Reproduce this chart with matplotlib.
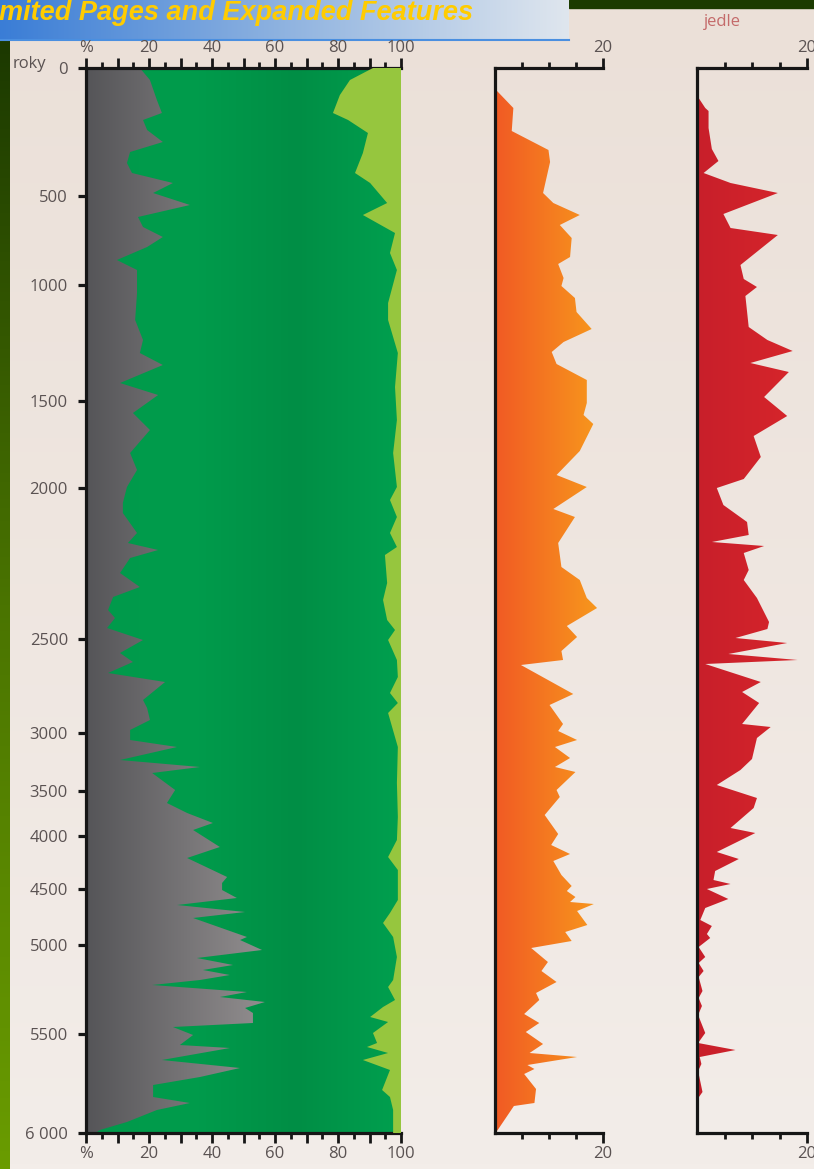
import numpy as np
import matplotlib
matplotlib.use("Agg")
import matplotlib.pyplot as plt
from matplotlib.colors import LinearSegmentedColormap
from matplotlib.patches import Rectangle
from matplotlib.ticker import FixedLocator

plt.rcParams['font.family'] = ['Open Sans', 'DejaVu Sans']

# ---------------- data ----------------
# age-depth model (age axis labels placed at core depth)
age_labels = ["0", "500", "1000", "1500", "2000", "2500", "3000", "3500",
              "4000", "4500", "5000", "5500", "6 000"]
age_depth = [0, 128, 217, 333, 420, 571, 665, 723, 768, 821, 877, 966, 1065]
core_bottom = 1065

# grey: non-arboreal pollen %, by depth
grey_depth = [0, 12, 32, 45, 52, 62, 74, 84, 95, 105, 115, 125, 137, 149, 159, 169, 179, 192, 202, 225,
              252, 272, 285, 297, 315, 327, 345, 362, 385, 402, 419, 435, 445, 465, 475, 482, 490, 505, 519, 529,
              542, 550, 560, 572, 585, 594, 605, 614, 632, 640, 652, 662, 672, 679, 692, 699, 705, 722, 735, 745,
              755, 762, 779, 790, 809, 815, 822, 830, 837, 844, 850, 869, 872, 882, 890, 897, 902, 907, 912, 917,
              924, 929, 934, 940, 945, 955, 959, 967, 977, 980, 992, 1000, 1009, 1017, 1029, 1035, 1042, 1054, 1062, 1065]
grey_pct = [17.1, 20.3, 22.5, 24.1, 18.1, 19.4, 24.4, 14.0, 13.0, 14.6, 27.6, 21.3, 33.0, 16.5, 18.1, 24.4, 19.4, 9.8, 16.2, 16.2,
            15.6, 18.1, 17.1, 24.4, 10.8, 22.9, 14.9, 20.3, 14.0, 16.2, 13.0, 11.7, 11.7, 16.2, 13.3, 22.9, 14.0, 10.8, 17.1, 8.6,
            7.0, 9.2, 6.7, 18.1, 10.8, 14.9, 7.0, 25.1, 18.1, 19.4, 20.3, 14.0, 14.0, 28.9, 10.8, 36.2, 21.0, 28.3, 25.7, 32.1,
            40.3, 34.0, 42.5, 32.1, 44.8, 43.2, 43.2, 47.9, 28.9, 50.5, 34.0, 51.1, 48.9, 55.9, 35.2, 46.7, 37.1, 45.7, 36.2, 21.0,
            51.1, 42.5, 56.8, 50.5, 53.0, 53.0, 27.6, 34.0, 29.8, 45.7, 24.1, 48.9, 36.2, 21.3, 21.3, 33.0, 22.5, 13.0, 4.4, 3.0]

# cumulative % up to the light-green group (remainder to 100 is light green)
cum_depth = [0, 12, 27, 45, 52, 65, 85, 105, 115, 135, 147, 165, 185, 202, 235, 252, 285, 319, 352, 385,
             419, 432, 449, 465, 479, 487, 515, 532, 552, 562, 572, 592, 609, 625, 635, 645, 679, 715, 749, 772,
             789, 802, 832, 845, 855, 869, 889, 912, 919, 932, 939, 949, 954, 965, 975, 979, 985, 992, 1002, 1022,
             1029, 1042, 1065]
cum_pct = [91.1, 83.8, 80.6, 78.4, 83.2, 89.5, 87.9, 85.4, 90.2, 95.6, 87.9, 98.1, 96.5, 98.7, 95.9, 95.9, 99.0, 98.1, 98.7, 97.5,
           98.7, 96.5, 98.7, 96.5, 98.7, 94.9, 95.6, 94.3, 95.6, 98.1, 95.9, 98.7, 99.0, 96.5, 99.0, 95.9, 99.0, 98.7, 99.0, 98.7,
           95.9, 99.0, 99.0, 96.5, 94.3, 97.5, 98.7, 97.5, 95.9, 98.1, 94.3, 90.2, 95.9, 91.1, 92.4, 89.2, 95.9, 87.9, 96.5, 94.0,
           96.5, 97.5, 97.5]

# orange curve
orange_depth = [22, 40, 63, 82, 94, 125, 135, 147, 157, 170, 189, 196, 210, 218, 230, 244, 261, 274, 284, 296,
                312, 335, 347, 356, 383, 407, 419, 441, 449, 475, 499, 512, 530, 540, 558, 569, 583, 592, 597, 626,
                637, 656, 663, 672, 679, 690, 699, 704, 722, 729, 747, 766, 777, 786, 793, 807, 818, 823, 829, 834,
                836, 843, 857, 864, 873, 880, 894, 903, 914, 925, 932, 946, 955, 964, 976, 985, 989, 997, 1001, 1006,
                1021, 1035, 1038, 1062, 1065]
orange_val = [0.2, 3.4, 3.1, 9.9, 10.2, 8.9, 10.8, 15.7, 12.0, 14.2, 13.9, 11.7, 12.7, 12.3, 14.8, 15.1, 17.9, 12.7, 10.5, 11.4,
              17.0, 17.0, 16.4, 18.2, 15.7, 11.4, 17.0, 10.8, 14.8, 11.7, 12.3, 15.7, 17.0, 18.9, 13.3, 15.2, 12.3, 12.6, 4.8, 14.5,
              10.1, 12.6, 11.7, 15.2, 11.1, 13.9, 11.1, 14.9, 11.4, 12.0, 9.2, 11.7, 10.4, 13.9, 10.8, 12.3, 14.2, 13.3, 14.9, 13.9,
              18.3, 15.2, 17.1, 13.0, 14.2, 6.7, 9.8, 8.6, 11.4, 7.6, 8.2, 5.4, 8.2, 5.7, 8.9, 6.4, 15.2, 6.0, 7.3, 5.4,
              7.6, 7.3, 3.5, 0.5, 0.0]

# jedle (fir)
fir_depth = [30, 40, 43, 60, 81, 93, 105, 115, 125, 146, 160, 167, 197, 211, 219, 228, 259, 272, 283, 295,
             304, 329, 348, 368, 389, 411, 420, 437, 454, 467, 474, 478, 485, 502, 512, 530, 554, 561, 570, 575,
             586, 592, 596, 614, 624, 635, 656, 659, 670, 691, 702, 717, 730, 740, 760, 765, 784, 791, 803, 812,
             816, 821, 831, 840, 852, 858, 866, 870, 879, 889, 895, 903, 909, 923, 930, 938, 947, 965, 975, 982,
             989, 996, 1003, 1024, 1031, 1065]
fir_val = [0.3, 1.5, 2.1, 2.1, 2.7, 3.9, 1.2, 6.1, 14.7, 4.8, 6.1, 14.7, 7.9, 8.5, 10.9, 8.8, 9.4, 12.8, 17.4, 9.7,
           16.7, 12.2, 16.4, 10.3, 11.6, 8.5, 3.6, 4.8, 9.1, 9.4, 2.7, 12.2, 8.5, 9.4, 8.5, 10.9, 13.1, 12.8, 7.0, 16.4,
           5.7, 18.3, 1.5, 11.6, 8.2, 11.3, 8.2, 13.4, 10.9, 10.0, 7.9, 3.6, 10.9, 10.3, 6.1, 10.6, 3.6, 7.6, 3.3, 3.0,
           6.1, 1.8, 5.7, 1.5, 0.6, 2.7, 1.8, 2.4, 0.3, 1.5, 0.3, 1.2, 0.3, 1.0, 0.3, 0.9, 0.2, 1.5, 0.2, 7.0,
           0.5, 0.8, 0.2, 1.0, 0.1, 0.0]

pct_ticks_major = [0, 10, 20, 30, 40, 50, 60, 70, 80, 90, 100]
pct_labels = ["%", "", "20", "", "40", "", "60", "", "80", "", "100"]
pct_ticks_minor = [5, 15, 25, 35, 45, 55, 65, 75, 85, 95]
small_major = [20]
small_minor = [5, 10, 15]

# ---------------- figure ----------------
W, H = 814, 1169
fig = plt.figure(figsize=(W / 100, H / 100), dpi=100)

bg = fig.add_axes([0, 0, 1, 1])
bg.set_axis_off()
bg.set_xlim(0, W)
bg.set_ylim(H, 0)
beige = LinearSegmentedColormap.from_list("beige", ["#ebe0d8", "#f3ede9"])
bg.imshow(np.linspace(0, 1, 256).reshape(-1, 1), extent=[0, W, H, 0], aspect='auto', cmap=beige, zorder=0)
stripc = LinearSegmentedColormap.from_list("strip", ["#1c3900", "#4a7400", "#6a9c00"])
bg.imshow(np.linspace(0, 1, 256).reshape(-1, 1), extent=[0, 10, H, 41], aspect='auto', cmap=stripc, zorder=1)
bg.add_patch(Rectangle((569, 0), W - 569, 8, color="#1b3b00", zorder=1))
banc = LinearSegmentedColormap.from_list("ban", ["#3a7dd6", "#8fb3e0", "#dfe6ee"])
bg.imshow(np.linspace(0, 1, 256).reshape(1, -1), extent=[0, 569, 40, 0], aspect='auto', cmap=banc, zorder=1)
bg.plot([0, 569], [40, 40], color="#4a8fe0", lw=1.5, zorder=2)
bg.text(-1, 20, "mited Pages and Expanded Features", fontsize=19.5, fontweight='bold', fontstyle='italic',
        family=['Liberation Sans', 'DejaVu Sans'], color="#ffcc00", va='baseline', ha='left', zorder=3)
bg.text(13, 64, "roky", fontsize=12, color="#5a5252", va='center', ha='left')
bg.text(722, 22, "jedle", fontsize=12, color="#c46a6a", va='center', ha='center')
bg.set_xlim(0, W)
bg.set_ylim(H, 0)

spine_c = "#161616"
lab_c = "#5a5252"


def style_axes(ax, xmax, major, labels, minor):
    ax.set_facecolor('none')
    ax.set_xlim(0, xmax)
    ax.set_ylim(core_bottom, 0)
    for s in ['left', 'top', 'bottom']:
        ax.spines[s].set_linewidth(2.3)
        ax.spines[s].set_color(spine_c)
    ax.spines['right'].set_visible(False)
    ax.xaxis.set_major_locator(FixedLocator(major))
    ax.set_xticklabels(labels)
    ax.xaxis.set_minor_locator(FixedLocator(minor))
    ax.tick_params(axis='x', which='both', top=True, bottom=True, labeltop=True, labelbottom=True,
                   direction='out', color=spine_c, labelcolor=lab_c, labelsize=12, pad=2)
    ax.tick_params(axis='x', which='major', length=7, width=2.0)
    ax.tick_params(axis='x', which='minor', length=4.5, width=2.0)


def gradient_fill(ax, depth, x0, x1, cmap, xmax):
    poly = ax.fill_betweenx(depth, x0, x1, facecolor='none', edgecolor='none')
    im = ax.imshow(np.linspace(0, 1, 256).reshape(1, -1), extent=[0, xmax, core_bottom, 0],
                   aspect='auto', cmap=cmap, interpolation='bilinear', zorder=2)
    im.set_clip_path(poly.get_paths()[0], ax.transData)
    return im


def fax(px0, px1):
    return fig.add_axes([px0 / W, 1 - 1133 / H, (px1 - px0) / W, 1065 / H])


# main stacked panel
ax1 = fax(86, 401)
dg = LinearSegmentedColormap.from_list("dg", ["#009a4b", "#009c4c", "#008e45", "#00a04f"])
ax1.imshow(np.linspace(0, 1, 256).reshape(1, -1), extent=[0, 100, core_bottom, 0], aspect='auto',
           cmap=dg, zorder=1)
gr = LinearSegmentedColormap.from_list("gr", [(0, "#555558"), (0.6, "#959192"), (1, "#a7a3a3")])
gradient_fill(ax1, grey_depth, 0, grey_pct, gr, 100)
ax1.fill_betweenx(cum_depth, cum_pct, 100, facecolor="#96c63e", edgecolor='none', zorder=3)
style_axes(ax1, 100, pct_ticks_major, pct_labels, pct_ticks_minor)
ax1.set_yticks(age_depth)
ax1.set_yticklabels(age_labels)
ax1.tick_params(axis='y', direction='out', length=6, width=2.3, color=spine_c, labelcolor=lab_c,
                labelsize=12, pad=7)

# orange panel
ax2 = fax(495, 603)
orc = LinearSegmentedColormap.from_list("or", [(0, "#f15a24"), (0.9, "#f7941d"), (1, "#f89a1c")])
gradient_fill(ax2, orange_depth, 0, orange_val, orc, 20)
style_axes(ax2, 20, small_major, ["20"], small_minor)
ax2.set_yticks([])

# fir panel
ax3 = fax(697, 807)
rdc = LinearSegmentedColormap.from_list("rd", ["#c81f2a", "#d8262b"])
gradient_fill(ax3, fir_depth, 0, fir_val, rdc, 20)
style_axes(ax3, 20, small_major, ["20"], small_minor)
ax3.set_yticks([])

for ax in (ax1, ax2, ax3):
    ax.set_xlim(0, ax.get_xlim()[1])
    ax.set_ylim(core_bottom, 0)

fig.savefig("out.png", dpi=100)
